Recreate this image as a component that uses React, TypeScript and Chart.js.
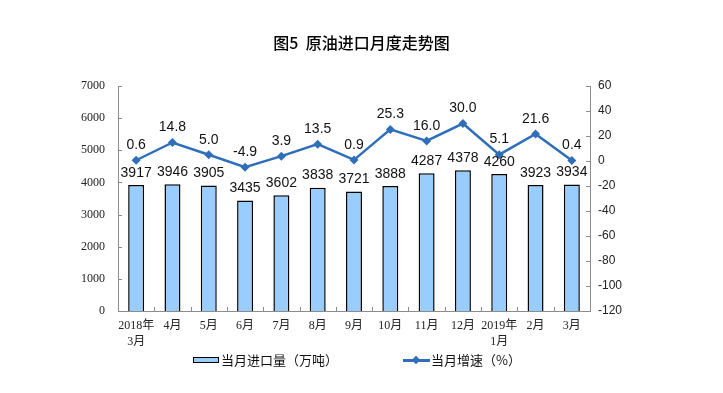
import React, { useEffect, useRef } from "react";
import { Chart, registerables } from "chart.js";

Chart.register(...registerables);

const categories: (string | string[])[] = [
  ["2018年", "3月"], "4月", "5月", "6月", "7月", "8月", "9月", "10月", "11月", "12月", ["2019年", "1月"], "2月", "3月",
];
const importVolume = [3917, 3946, 3905, 3435, 3602, 3838, 3721, 3888, 4287, 4378, 4260, 3923, 3934];
const growthRate = [0.6, 14.8, 5.0, -4.9, 3.9, 13.5, 0.9, 25.3, 16.0, 30.0, 5.1, 21.6, 0.4];

const barLabel = "当月进口量（万吨）";
const lineLabel = "当月增速（%）";
const titleText = "图5  原油进口月度走势图";

const BAR_FILL = "#99CCFF";
const LINE_COLOR = "#2F6EBA";
const AXIS_COLOR = "#8c8c8c";

export default function App() {
  const canvasRef = useRef<HTMLCanvasElement | null>(null);

  useEffect(() => {
    const canvas = canvasRef.current;
    if (!canvas) return;

    const labelPlugin = {
      id: "valueLabels",
      afterDatasetsDraw(chart: any) {
        const ctx = chart.ctx;
        ctx.save();
        ctx.fillStyle = "#111";
        ctx.font = "14px 'Liberation Sans', Arial, sans-serif";
        ctx.textAlign = "center";
        ctx.textBaseline = "bottom";
        chart.data.datasets.forEach((ds: any, di: number) => {
          const meta = chart.getDatasetMeta(di);
          meta.data.forEach((el: any, i: number) => {
            const v = ds.data[i];
            if (ds.type === "line") {
              ctx.fillText(Number(v).toFixed(1), el.x, el.y - 8);
            } else {
              ctx.fillText(String(v), el.x, el.y - 5);
            }
          });
        });
        ctx.restore();
      },
      afterDraw(chart: any) {
        const ctx = chart.ctx;
        const area = chart.chartArea;
        ctx.save();
        ctx.strokeStyle = AXIS_COLOR;
        ctx.lineWidth = 1;
        const ys = chart.scales.y;
        ys.ticks.forEach((t: any, i: number) => {
          const py = Math.round(ys.getPixelForTick(i)) + 0.5;
          ctx.beginPath();
          ctx.moveTo(area.left, py);
          ctx.lineTo(area.left + 4, py);
          ctx.stroke();
        });
        const y1 = chart.scales.y1;
        y1.ticks.forEach((t: any, i: number) => {
          const py = Math.round(y1.getPixelForTick(i)) + 0.5;
          ctx.beginPath();
          ctx.moveTo(area.right - 4, py);
          ctx.lineTo(area.right, py);
          ctx.stroke();
        });
        const n = categories.length;
        const w = (area.right - area.left) / n;
        for (let i = 1; i < n; i++) {
          const px = Math.round(area.left + i * w) + 0.5;
          ctx.beginPath();
          ctx.moveTo(px, area.bottom - 4);
          ctx.lineTo(px, area.bottom);
          ctx.stroke();
        }
        ctx.restore();
      },
    };

    const chart = new Chart(canvas, {
      type: "bar",
      data: {
        labels: categories as any,
        datasets: [
          {
            type: "line",
            label: lineLabel,
            data: growthRate,
            yAxisID: "y1",
            borderColor: LINE_COLOR,
            backgroundColor: LINE_COLOR,
            borderWidth: 2.5,
            pointStyle: "rectRot",
            pointRadius: 4.5,
            pointBorderWidth: 0,
            tension: 0,
            order: 0,
          } as any,
          {
            type: "bar",
            label: barLabel,
            data: importVolume,
            yAxisID: "y",
            backgroundColor: BAR_FILL,
            borderColor: "#000",
            borderWidth: 1.5,
            borderSkipped: "bottom",
            categoryPercentage: 1,
            barPercentage: 0.44,
            order: 1,
          } as any,
        ],
      },
      options: {
        responsive: false,
        devicePixelRatio: 1,
        animation: false,
        layout: { padding: { top: 86, left: 0, right: 0, bottom: 0 } },
        plugins: {
          legend: { display: false },
          tooltip: { enabled: false },
          title: { display: false },
        },
        scales: {
          x: {
            offset: true,
            grid: { display: false, drawTicks: false },
            border: { display: true, color: AXIS_COLOR, width: 1 },
            ticks: {
              color: "#222",
              padding: 7,
              maxRotation: 0,
              autoSkip: false,
              font: { family: "'Liberation Serif', 'Noto Sans CJK SC', serif", size: 12, lineHeight: 1.3 },
            },
            afterFit: (s: any) => {
              s.height = 82;
            },
          },
          y: {
            position: "left",
            min: 0,
            max: 7000,
            grid: { display: false, drawTicks: false },
            border: { display: true, color: AXIS_COLOR, width: 1 },
            ticks: {
              stepSize: 1000,
              color: "#222",
              padding: 13,
              font: { family: "'Liberation Serif', 'Times New Roman', serif", size: 12 },
              callback: (v: any) => String(v),
            },
            afterFit: (s: any) => {
              s.width = 118;
            },
          },
          y1: {
            position: "right",
            min: -120,
            max: 60,
            grid: { display: false, drawTicks: false },
            border: { display: true, color: AXIS_COLOR, width: 1 },
            ticks: {
              stepSize: 20,
              color: "#222",
              padding: 8,
              font: { family: "'Liberation Sans', Arial, sans-serif", size: 12 },
              callback: (v: any) => String(v),
            },
            afterFit: (s: any) => {
              s.width = 133;
            },
          },
        },
      } as any,
      plugins: [labelPlugin],
    });

    return () => {
      chart.destroy();
    };
  }, []);

  const legendText: React.CSSProperties = {
    position: "absolute",
    top: 351,
    height: 18,
    lineHeight: "18px",
    fontFamily: "'Noto Sans CJK SC', sans-serif",
    fontSize: 13,
    color: "#111",
    whiteSpace: "nowrap",
  };

  return (
    <div
      style={{
        position: "fixed",
        left: 0,
        top: 0,
        width: 723,
        height: 393,
        background: "#fff",
        overflow: "hidden",
      }}
    >
      <canvas ref={canvasRef} width={723} height={393} style={{ position: "absolute", left: 0, top: 0 }} />
      <div
        style={{
          position: "absolute",
          left: 0,
          width: 723,
          top: 32,
          textAlign: "center",
          fontFamily: "'Noto Sans CJK SC', sans-serif",
          fontSize: 16,
          fontWeight: 500,
          lineHeight: "20px",
          color: "#000",
          whiteSpace: "pre",
        }}
      >
        {titleText}
      </div>
      <div
        style={{
          position: "absolute",
          left: 193,
          top: 357,
          width: 24,
          height: 4,
          background: BAR_FILL,
          border: "1.5px solid #000",
        }}
      />
      <div style={{ ...legendText, left: 221 }}>{barLabel}</div>
      <div
        style={{
          position: "absolute",
          left: 403,
          top: 359,
          width: 27,
          height: 2.5,
          background: LINE_COLOR,
        }}
      />
      <div
        style={{
          position: "absolute",
          left: 413,
          top: 357,
          width: 6,
          height: 6,
          background: LINE_COLOR,
          transform: "rotate(45deg)",
        }}
      />
      <div style={{ ...legendText, left: 431 }}>{lineLabel}</div>
    </div>
  );
}
